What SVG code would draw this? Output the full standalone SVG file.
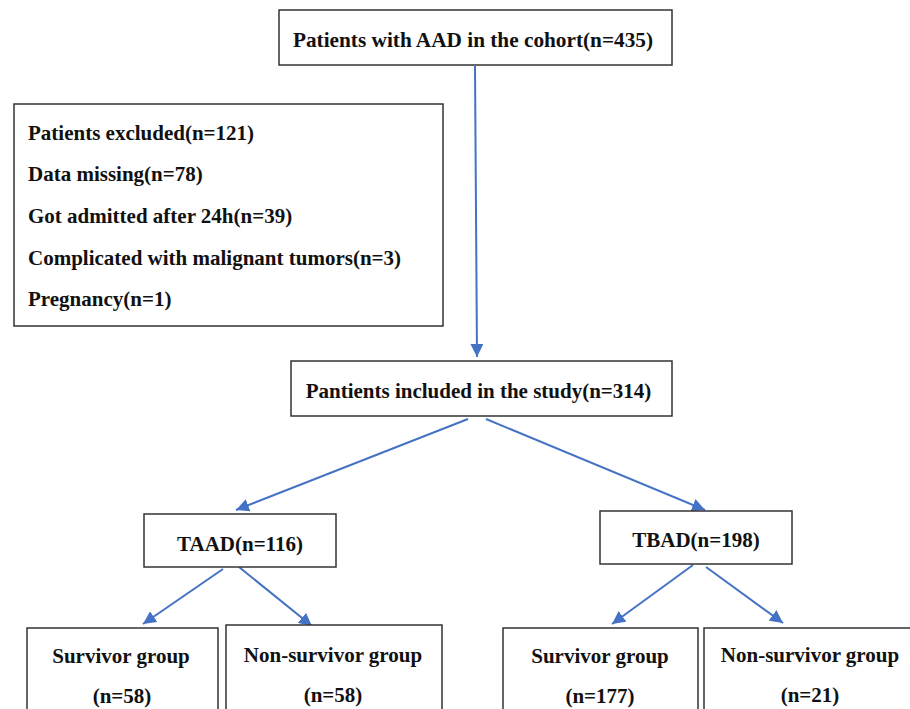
<svg xmlns="http://www.w3.org/2000/svg" width="910" height="709" viewBox="0 0 910 709">
<defs>
<style>
.box{fill:#fff;stroke:#333;stroke-width:1.5}
.t{font-family:"Liberation Serif","Times New Roman",serif;font-weight:bold;font-size:21px;fill:#111}
.c{text-anchor:middle}
.conn{stroke:#4472C4;stroke-width:2;fill:none;marker-end:url(#ah)}
</style>
<marker id="ah" viewBox="0 0 10 10" refX="10" refY="5" markerWidth="6.5" markerHeight="6.5" markerUnits="strokeWidth" orient="auto">
<path d="M0,0 L10,5 L0,10 z" fill="#4472C4"/>
</marker>
</defs>
<rect width="910" height="709" fill="#fff"/>
<g id="connectors">
<line class="conn" x1="475" y1="66" x2="477" y2="357"/>
<line class="conn" x1="468" y1="419" x2="236" y2="510"/>
<line class="conn" x1="486" y1="419" x2="705" y2="510"/>
<line class="conn" x1="223" y1="569" x2="143" y2="624"/>
<line class="conn" x1="239" y1="567" x2="312" y2="626"/>
<line class="conn" x1="693" y1="565" x2="612" y2="624"/>
<line class="conn" x1="706" y1="567" x2="783" y2="623"/>
</g>
<g id="cohort">
<rect class="box" x="279" y="10" width="393" height="55"/>
<text class="t c" x="473" y="47" textLength="360" lengthAdjust="spacingAndGlyphs">Patients with AAD in the cohort(n=435)</text>
</g>
<g id="excluded">
<rect class="box" x="14" y="104" width="429" height="222"/>
<text class="t" x="28" y="140">Patients excluded(n=121)</text>
<text class="t" x="28" y="181">Data missing(n=78)</text>
<text class="t" x="28" y="223">Got admitted after 24h(n=39)</text>
<text class="t" x="28" y="265">Complicated with malignant tumors(n=3)</text>
<text class="t" x="28" y="306">Pregnancy(n=1)</text>
</g>
<g id="included">
<rect class="box" x="291" y="361" width="381" height="55"/>
<text class="t c" x="478.5" y="398">Pantients included in the study(n=314)</text>
</g>
<g id="taad">
<rect class="box" x="144" y="514" width="192" height="53"/>
<text class="t c" x="240" y="551">TAAD(n=116)</text>
</g>
<g id="tbad">
<rect class="box" x="600" y="511" width="192" height="53"/>
<text class="t c" x="696" y="547">TBAD(n=198)</text>
</g>
<g id="taad-survivor">
<rect class="box" x="27" y="628" width="191" height="100"/>
<text class="t c" x="121" y="663">Survivor group</text>
<text class="t c" x="122" y="703">(n=58)</text>
</g>
<g id="taad-nonsurvivor">
<rect class="box" x="226" y="625" width="216" height="100"/>
<text class="t c" x="333" y="662">Non-survivor group</text>
<text class="t c" x="333" y="702">(n=58)</text>
</g>
<g id="tbad-survivor">
<rect class="box" x="503" y="628" width="195" height="100"/>
<text class="t c" x="600" y="663">Survivor group</text>
<text class="t c" x="600" y="703">(n=177)</text>
</g>
<g id="tbad-nonsurvivor">
<rect class="box" x="704" y="628" width="220" height="100"/>
<text class="t c" x="810" y="662">Non-survivor group</text>
<text class="t c" x="810" y="702">(n=21)</text>
</g>
</svg>
